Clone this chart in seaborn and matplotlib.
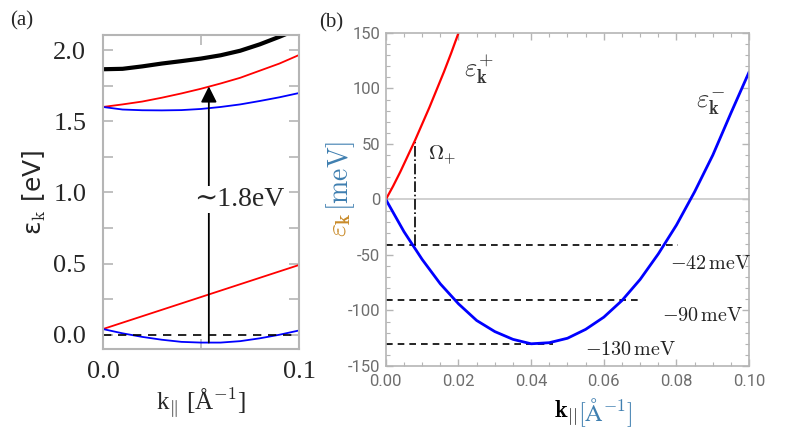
import numpy as np
import pandas as pd
import matplotlib
matplotlib.use("Agg")
import matplotlib.pyplot as plt
import seaborn as sns
from matplotlib import font_manager
from matplotlib.ticker import MultipleLocator

sns.set_theme(style="ticks")
installed = {f.name for f in font_manager.fontManager.ttflist}


def pick(*names):
    """First installed family out of the candidates."""
    for n in names:
        if n in installed:
            return n
    return 'DejaVu Sans'


serif = pick('Liberation Serif', 'DejaVu Serif')
narrow = pick('Liberation Sans Narrow', 'DejaVu Sans Condensed', 'Roboto', 'Liberation Sans')
plt.rcParams['font.family'] = [serif, 'DejaVu Serif']
plt.rcParams['mathtext.fontset'] = 'cm'

# ---- panel (a) data: band energies in eV ----
k_a = [0.0, 0.01, 0.02, 0.03, 0.04, 0.05, 0.06, 0.07, 0.08, 0.09, 0.10]
band_black = [1.865, 1.868, 1.885, 1.905, 1.922, 1.94, 1.963, 1.995, 2.04, 2.093, 2.15]
band_red_up = [1.60, 1.618, 1.638, 1.665, 1.695, 1.728, 1.765, 1.805, 1.855, 1.905, 1.965]
band_blue_up = [1.60, 1.582, 1.577, 1.576, 1.578, 1.586, 1.60, 1.618, 1.642, 1.668, 1.698]
band_red_lo = [0.04, 0.085, 0.13, 0.175, 0.22, 0.265, 0.31, 0.355, 0.40, 0.445, 0.49]
band_blue_lo = [0.04, 0.01, -0.015, -0.035, -0.05, -0.055, -0.055, -0.045, -0.025, 0.0, 0.03]
arrow_k = 0.054
arrow_from, arrow_to = -0.055, 1.745

# ---- panel (b) data: energies in meV ----
k_plus = [0.0, 0.002, 0.004, 0.006, 0.008, 0.010, 0.012, 0.014, 0.016, 0.018, 0.020]
e_plus = [0, 12, 25, 39, 53, 68, 83, 99, 115, 132, 150]
k_minus = [0.0, 0.005, 0.010, 0.015, 0.020, 0.025, 0.030, 0.035, 0.040, 0.045,
           0.050, 0.055, 0.060, 0.065, 0.070, 0.075, 0.080, 0.085, 0.090, 0.095, 0.100]
e_minus = [0, -29, -54, -76, -94, -109, -119, -126, -130, -129,
           -125, -117, -106, -91, -72, -49, -23, 7, 40, 78, 115]
levels = [-41, -91, -130]
level_ends = [0.0805, 0.070, 0.046]
level_labels = [r'$-42\,\mathrm{meV}$', r'$-90\,\mathrm{meV}$', r'$-130\,\mathrm{meV}$']
level_label_pos = [(0.0783, -59), (0.0759, -105), (0.0549, -136)]
omega_k, omega_top = 0.008, 52

df_a = pd.DataFrame({'k': k_a, 'black': band_black, 'red_up': band_red_up,
                     'blue_up': band_blue_up, 'red_lo': band_red_lo,
                     'blue_lo': band_blue_lo})

fig = plt.figure(figsize=(7.89, 4.44), dpi=100)
ax_a = fig.add_axes([0.1305, 0.214, 0.2485, 0.707])
ax_b = fig.add_axes([0.489, 0.1757, 0.4605, 0.75])

frame = '#b5b5b5'

# ---------- panel (a) ----------
sns.lineplot(data=df_a, x='k', y='black', color='black', lw=3.0, ax=ax_a)
sns.lineplot(data=df_a, x='k', y='red_up', color='red', lw=1.3, ax=ax_a)
sns.lineplot(data=df_a, x='k', y='blue_up', color='blue', lw=1.3, ax=ax_a)
sns.lineplot(data=df_a, x='k', y='red_lo', color='red', lw=1.3, ax=ax_a)
sns.lineplot(data=df_a, x='k', y='blue_lo', color='blue', lw=1.3, ax=ax_a)
ax_a.axhline(0, color='black', ls=(0, (5, 4)), lw=1.2)
ax_a.annotate('', xy=(arrow_k, arrow_to), xytext=(arrow_k, arrow_from),
              arrowprops=dict(arrowstyle='-|>', color='black', lw=1.3,
                              mutation_scale=24, shrinkA=0, shrinkB=0))
ax_a.text(0.0695, 0.95, '∼1.8eV', ha='center', va='center', fontsize=20,
          family=[serif, 'DejaVu Serif'],
          bbox=dict(facecolor='white', edgecolor='none', pad=0.5))
ax_a.set_xlim(0, 0.1)
ax_a.set_ylim(-0.1, 2.105)
ax_a.set_xticks([0.0, 0.1])
ax_a.set_xticklabels(['0.0', '0.1'])
ax_a.set_yticks([0.0, 0.5, 1.0, 1.5, 2.0])
ax_a.set_yticklabels(['0.0', '0.5', '1.0', '1.5', '2.0'])
ax_a.xaxis.set_minor_locator(MultipleLocator(0.05))
ax_a.yaxis.set_minor_locator(MultipleLocator(0.25))
ax_a.tick_params(which='both', direction='in', top=True, right=True,
                 color=frame, length=7, width=1.2, labelsize=19)
ax_a.tick_params(axis='y', pad=12)
ax_a.tick_params(axis='x', pad=9)
for s in ax_a.spines.values():
    s.set_color(frame)
    s.set_linewidth(1.5)
ax_a.set_xlabel(r'k$_{\|}$ [Å$^{\mathrm{-1}}$]', fontsize=18, labelpad=2)
ax_a.set_ylabel('ε$_{\\mathrm{k}}$ [eV]', fontsize=18, labelpad=4)
ax_a.yaxis.label.set_family(['DejaVu Sans'])
fig.text(0.013, 0.952, '(a)', fontsize=15, ha='left', va='center')

# ---------- panel (b) ----------
ax_b.axhline(0, color='#c8c8c8', lw=1.2)
for lev, end in zip(levels, level_ends):
    ax_b.plot([0, end], [lev, lev], color='black', ls=(0, (4, 3)), lw=1.2)
ax_b.plot([omega_k, omega_k], [levels[0], omega_top], color='black',
          ls='-.', lw=1.2)
sns.lineplot(x=k_plus, y=e_plus, color='red', lw=1.6, ax=ax_b)
sns.lineplot(x=k_minus, y=e_minus, color='blue', lw=2.0, ax=ax_b)
for lab, (x, y) in zip(level_labels, level_label_pos):
    ax_b.text(x, y, lab, fontsize=14.5, ha='left', va='center', color='#222222')
ax_b.text(0.0115, 40, r'$\Omega_{+}$', fontsize=15, ha='left', va='center',
          color='#222222')
ax_b.text(0.0215, 117, r'$\varepsilon_{\mathbf{k}}^{+}$', fontsize=19,
          ha='left', va='center', color='#333333')
ax_b.text(0.0855, 86, r'$\varepsilon_{\mathbf{k}}^{-}$', fontsize=19,
          ha='left', va='center', color='#333333')
ax_b.set_xlim(0, 0.1)
ax_b.set_ylim(-150, 150)
ax_b.set_xticks(np.arange(0, 0.101, 0.02))
ax_b.set_xticklabels(['0.00', '0.02', '0.04', '0.06', '0.08', '0.10'])
ax_b.set_yticks(np.arange(-150, 151, 50))
ax_b.set_yticklabels(['-150', '-100', '-50', '0', '50', '100', '150'])
ax_b.xaxis.set_minor_locator(MultipleLocator(0.005))
ax_b.yaxis.set_minor_locator(MultipleLocator(10))
ax_b.tick_params(which='major', direction='in', top=True, right=True,
                 color=frame, length=5, width=1.0)
ax_b.tick_params(which='minor', direction='in', top=True, right=True,
                 color=frame, length=3, width=0.8)
ax_b.tick_params(labelsize=12, labelcolor='#6e6e6e')
ax_b.tick_params(axis='x', pad=6)
ax_b.tick_params(axis='y', pad=4)
for lab in ax_b.get_xticklabels() + ax_b.get_yticklabels():
    lab.set_family([narrow, 'DejaVu Sans'])
    lab.set_stretch('condensed')
for s in ax_b.spines.values():
    s.set_color(frame)
    s.set_linewidth(1.2)
ax_b.set_xlabel('')
ax_b.set_ylabel('')
# axis titles in two colours, as in the original
fig.text(0.432, 0.495, r'$\varepsilon_{\mathbf{k}}$', fontsize=20, rotation=90,
         ha='center', va='center', color='#c98b2a')
fig.text(0.432, 0.605, r'$[\mathrm{meV}]$', fontsize=20, rotation=90,
         ha='center', va='center', color='#3f7fb0')
fig.text(0.731, 0.07, r'$\mathbf{k}_{||}$', fontsize=17.5, ha='right',
         va='center', color='black')
fig.text(0.732, 0.07, r'$[\mathrm{\AA}^{-1}]$', fontsize=17.5, ha='left',
         va='center', color='#3f7fb0')
fig.text(0.405, 0.948, '(b)', fontsize=15, ha='left', va='center')

fig.savefig('out.png', dpi=100)
